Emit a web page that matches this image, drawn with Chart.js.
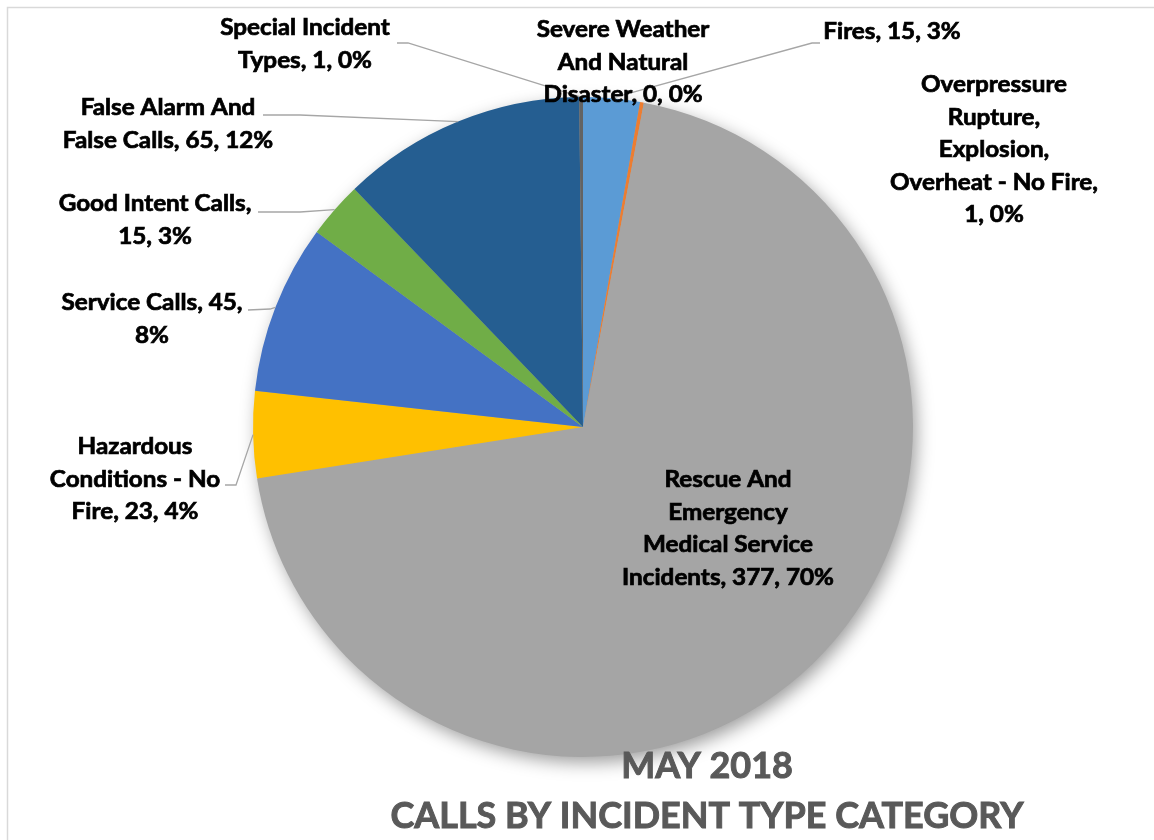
<!DOCTYPE html>
<html>
<head>
<meta charset="utf-8">
<script src="https://cdn.jsdelivr.net/npm/chart.js@4"></script>
<style>
  html, body { margin: 0; padding: 0; background: #fff; }
  #wrap { width: 1154px; height: 840px; }
</style>
</head>
<body>
<div id="wrap"><canvas id="myChart-incidents" width="1154" height="840"></canvas></div>
<script>
// data (pie runs clockwise from 12 o'clock, same order as the sheet)
const categories = [
  'Fires',
  'Overpressure Rupture, Explosion, Overheat - No Fire',
  'Rescue And Emergency Medical Service Incidents',
  'Hazardous Conditions - No Fire',
  'Service Calls',
  'Good Intent Calls',
  'False Alarm And False Calls',
  'Special Incident Types',
  'Severe Weather And Natural Disaster'
];
const callCounts = [15, 1, 377, 23, 45, 15, 65, 1, 0];
const sliceColors = ['#5b9bd5', '#ed7d31', '#a5a5a5', '#ffc000', '#4472c4', '#70ad47', '#255e91', '#636363', '#9e480e'];
const titleLines = ['MAY 2018', 'CALLS BY INCIDENT TYPE CATEGORY'];

// label layout: words per line, centre x, first baseline, optional leader (start + elbow)
const labelLayout = [
  { words: [3], x: 892, y: 39, leader: [[820, 43], [812, 43]] },
  { words: [1, 1, 1, 4, 2], x: 994, y: 92 },
  { words: [2, 1, 2, 3], x: 728, y: 487 },
  { words: [1, 3, 3], x: 135, y: 454, leader: [[225, 485], [236, 485]] },
  { words: [3, 1], x: 152, y: 310, leader: [[248, 310], [270, 309]] },
  { words: [3, 2], x: 155, y: 211, leader: [[258, 212], [300, 212]] },
  { words: [3, 4], x: 168, y: 115, leader: [[263, 115], [300, 115]] },
  { words: [2, 3], x: 305, y: 35, leader: [[397, 43], [408, 43]] },
  { words: [2, 2, 3], x: 623, y: 37 }
];
const lineGap = 32.5;

const total = callCounts.reduce((a, b) => a + b, 0);

const buildLines = (i) => {
  const pct = Math.round(callCounts[i] / total * 100);
  const words = `${categories[i]}, ${callCounts[i]}, ${pct}%`.split(' ');
  const lines = [];
  let k = 0;
  labelLayout[i].words.forEach(n => {
    lines.push(words.slice(k, k + n).join(' '));
    k += n;
  });
  return lines;
};

// text squeezed horizontally (Calibri is narrower than Lato), with a hairline stroke for weight
const drawScaled = (ctx, text, x, y, sx) => {
  ctx.save();
  ctx.translate(x, y);
  ctx.scale(sx, 1);
  ctx.fillText(text, 0, 0);
  ctx.strokeText(text, 0, 0);
  ctx.restore();
};

const incidentPlugin = {
  id: 'incidentLabels',
  beforeDraw(chart) {
    const ctx = chart.ctx;
    ctx.save();
    ctx.strokeStyle = '#d9d9d9';
    ctx.lineWidth = 1.5;
    ctx.strokeRect(7.5, 7.5, 1300, 1300);
    ctx.restore();
  },
  beforeDatasetsDraw(chart) {
    const ctx = chart.ctx;
    const arc = chart.getDatasetMeta(0).data[0];
    const p = arc.getProps(['x', 'y', 'outerRadius'], true);
    ctx.save();
    ctx.shadowColor = 'rgba(0,0,0,0.4)';
    ctx.shadowBlur = 18;
    ctx.shadowOffsetX = 4;
    ctx.shadowOffsetY = 6;
    ctx.beginPath();
    ctx.arc(p.x, p.y, p.outerRadius - 1, 0, Math.PI * 2);
    ctx.fillStyle = '#a5a5a5';
    ctx.fill();
    ctx.restore();
  },
  afterDraw(chart) {
    const ctx = chart.ctx;
    const arcs = chart.getDatasetMeta(0).data;

    // leader lines
    ctx.save();
    ctx.strokeStyle = '#a6a6a6';
    ctx.lineWidth = 1.3;
    labelLayout.forEach((lay, i) => {
      if (!lay.leader) return;
      const a = arcs[i].getProps(['x', 'y', 'startAngle', 'endAngle', 'outerRadius'], true);
      const mid = (a.startAngle + a.endAngle) / 2;
      ctx.beginPath();
      ctx.moveTo(lay.leader[0][0], lay.leader[0][1]);
      ctx.lineTo(lay.leader[1][0], lay.leader[1][1]);
      ctx.lineTo(a.x + Math.cos(mid) * a.outerRadius, a.y + Math.sin(mid) * a.outerRadius);
      ctx.stroke();
    });
    ctx.restore();

    // data labels
    ctx.save();
    ctx.font = 'bold 22px Lato';
    ctx.fillStyle = '#000';
    ctx.strokeStyle = '#000';
    ctx.lineWidth = 0.7;
    ctx.textAlign = 'center';
    ctx.textBaseline = 'alphabetic';
    const sx = 208 / ctx.measureText('Overheat - No Fire,').width;
    labelLayout.forEach((lay, i) => {
      buildLines(i).forEach((ln, j) => drawScaled(ctx, ln, lay.x, lay.y + j * lineGap, sx));
    });
    ctx.restore();

    // title at the bottom
    ctx.save();
    ctx.font = 'bold 37px Lato';
    ctx.fillStyle = '#595959';
    ctx.strokeStyle = '#595959';
    ctx.lineWidth = 1;
    ctx.textAlign = 'center';
    const tx = 633 / ctx.measureText(titleLines[1]).width;
    drawScaled(ctx, titleLines[0], 707, 778, tx);
    drawScaled(ctx, titleLines[1], 707, 828, tx);
    ctx.restore();
  }
};

const renderChart = () => {
  const ctx = document.getElementById('myChart-incidents');
  new Chart(ctx, {
    type: 'pie',
    data: {
      labels: categories,
      datasets: [{
        data: callCounts,
        backgroundColor: sliceColors,
        borderWidth: 0
      }]
    },
    options: {
      responsive: false,
      animation: false,
      layout: { padding: { left: 253, right: 241, top: 97, bottom: 83 } },
      plugins: {
        legend: { display: false },
        tooltip: { enabled: false }
      }
    },
    plugins: [incidentPlugin]
  });
};

document.fonts.load('bold 22px Lato').then(renderChart, renderChart);
</script>
</body>
</html>
